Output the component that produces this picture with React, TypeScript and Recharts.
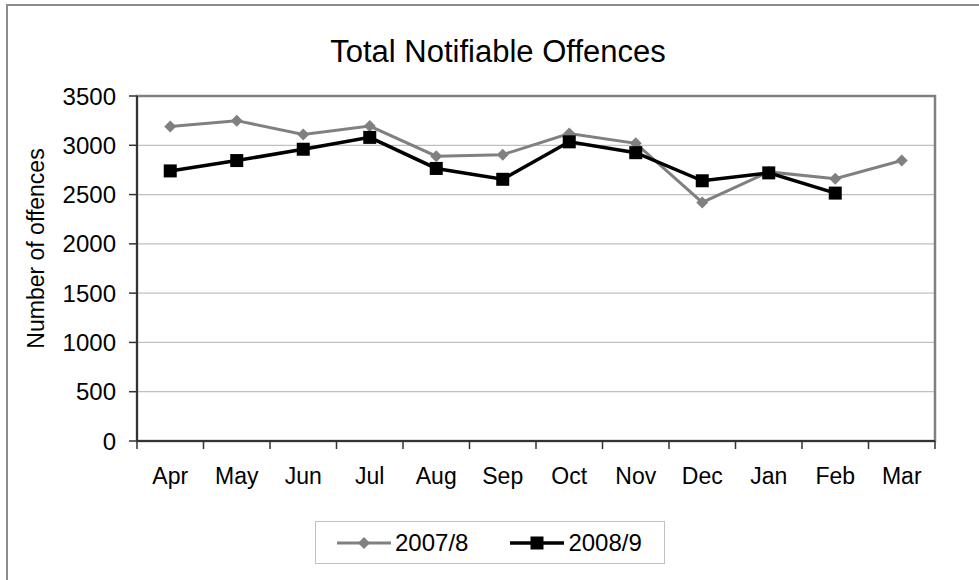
import React from 'react';
import { LineChart, Line, XAxis, YAxis, CartesianGrid, ReferenceArea } from 'recharts';

const title = 'Total Notifiable Offences';
const yAxisLabel = 'Number of offences';
const months = ['Apr', 'May', 'Jun', 'Jul', 'Aug', 'Sep', 'Oct', 'Nov', 'Dec', 'Jan', 'Feb', 'Mar'];
const offences2007 = [3190, 3250, 3110, 3195, 2890, 2905, 3120, 3020, 2420, 2730, 2660, 2845];
const offences2008: (number | null)[] = [2740, 2845, 2960, 3080, 2765, 2655, 3035, 2925, 2640, 2720, 2515, null];
const yTicks = [0, 500, 1000, 1500, 2000, 2500, 3000, 3500];
const seriesNames = ['2007/8', '2008/9'];

const data = months.map((m, i) => ({ month: m, a: offences2007[i], b: offences2008[i] }));

const FONT = '"Liberation Sans", Arial, sans-serif';
const GRAY = '#808080';
const AXIS = '#333333';

const Diamond = (props: any) => {
  const { cx, cy } = props;
  if (cx == null || cy == null) return null;
  const r = 6;
  return <path d={`M${cx} ${cy - r}L${cx + r} ${cy}L${cx} ${cy + r}L${cx - r} ${cy}Z`} fill={GRAY} />;
};

const Square = (props: any) => {
  const { cx, cy } = props;
  if (cx == null || cy == null) return null;
  const s = 6.5;
  return <rect x={cx - s} y={cy - s} width={2 * s} height={2 * s} fill="#000" />;
};

const MonthTick = (props: any) => {
  const { x, y, payload, index, visibleTicksCount, width } = props;
  const count = visibleTicksCount || months.length;
  const half = payload && payload.offset ? payload.offset : (width || 0) / count / 2;
  return (
    <g>
      <line x1={x - half} x2={x - half} y1={y} y2={y + 8} stroke={AXIS} strokeWidth={1.5} />
      {index === count - 1 && (
        <line x1={x + half} x2={x + half} y1={y} y2={y + 8} stroke={AXIS} strokeWidth={1.5} />
      )}
      <text x={x} y={y + 43} textAnchor="middle" fontFamily={FONT} fontSize={23} fill="#000">
        {payload.value}
      </text>
    </g>
  );
};

const renderYLabel = (props: any) => {
  const vb = props.viewBox || {};
  const x = (vb.x ?? 0) + 28;
  const y = (vb.y ?? 0) + (vb.height ?? 0) / 2 - 20;
  return (
    <text
      x={x}
      y={y}
      transform={`rotate(-90 ${x} ${y})`}
      textAnchor="middle"
      dominantBaseline="central"
      fontFamily={FONT}
      fontSize={23}
      fill="#000"
    >
      {yAxisLabel}
    </text>
  );
};

export default function App() {
  return (
    <div style={{ position: 'absolute', left: 0, top: 0, width: 979, height: 580, overflow: 'hidden', background: '#fff', fontFamily: FONT }}>
      <div
        style={{
          position: 'absolute',
          left: 6,
          top: 4,
          width: 980,
          height: 590,
          border: '2px solid #8c8c8c',
          boxSizing: 'border-box',
        }}
      />
      <div
        style={{
          position: 'absolute',
          left: 0,
          top: 35,
          width: 996,
          textAlign: 'center',
          fontSize: 31,
          lineHeight: '34px',
          color: '#000',
        }}
      >
        {title}
      </div>
      <div style={{ position: 'absolute', left: 0, top: 0 }}>
        <LineChart width={979} height={580} data={data} margin={{ top: 96, right: 44, bottom: 79, left: 8 }}>
          <CartesianGrid vertical={false} stroke="#c0c0c0" strokeWidth={1.2} />
          <ReferenceArea x1="Apr" x2="Mar" y1={0} y2={3500} fill="none" stroke={GRAY} strokeWidth={2.5} />
          <XAxis
            dataKey="month"
            scale="band"
            stroke={AXIS}
            strokeWidth={2}
            tickLine={false}
            tickSize={0}
            tickMargin={0}
            height={60}
            interval={0}
            tick={<MonthTick />}
          />
          <YAxis
            domain={[0, 3500]}
            ticks={yTicks}
            interval={0}
            width={129}
            tickSize={8}
            tickMargin={13}
            stroke={AXIS}
            strokeWidth={2}
            tickLine={{ stroke: AXIS, strokeWidth: 1.5 }}
            tick={{ fill: '#000', fontSize: 24, fontFamily: FONT }}
            label={{ content: renderYLabel }}
          />
          <Line
            dataKey="a"
            name={seriesNames[0]}
            stroke={GRAY}
            strokeWidth={3}
            dot={<Diamond />}
            activeDot={false}
            isAnimationActive={false}
          />
          <Line
            dataKey="b"
            name={seriesNames[1]}
            stroke="#000"
            strokeWidth={3.5}
            dot={<Square />}
            activeDot={false}
            connectNulls={false}
            isAnimationActive={false}
          />
        </LineChart>
      </div>
      <div
        style={{
          position: 'absolute',
          left: 315,
          top: 521,
          width: 350,
          height: 43,
          border: '1px solid #c0c0c0',
          boxSizing: 'border-box',
          display: 'flex',
          alignItems: 'center',
          fontSize: 24,
          color: '#000',
        }}
      >
        <div style={{ display: 'flex', alignItems: 'center', marginLeft: 21 }}>
          <svg width={54} height={20}>
            <line x1={0} y1={10} x2={54} y2={10} stroke={GRAY} strokeWidth={3} />
            <path d="M27 4L33 10L27 16L21 10Z" fill={GRAY} />
          </svg>
          <span style={{ marginLeft: 4 }}>{seriesNames[0]}</span>
        </div>
        <div style={{ display: 'flex', alignItems: 'center', marginLeft: 42 }}>
          <svg width={54} height={20}>
            <line x1={0} y1={10} x2={54} y2={10} stroke="#000" strokeWidth={3.5} />
            <rect x={20.5} y={3.5} width={13} height={13} fill="#000" />
          </svg>
          <span style={{ marginLeft: 4 }}>{seriesNames[1]}</span>
        </div>
      </div>
    </div>
  );
}
